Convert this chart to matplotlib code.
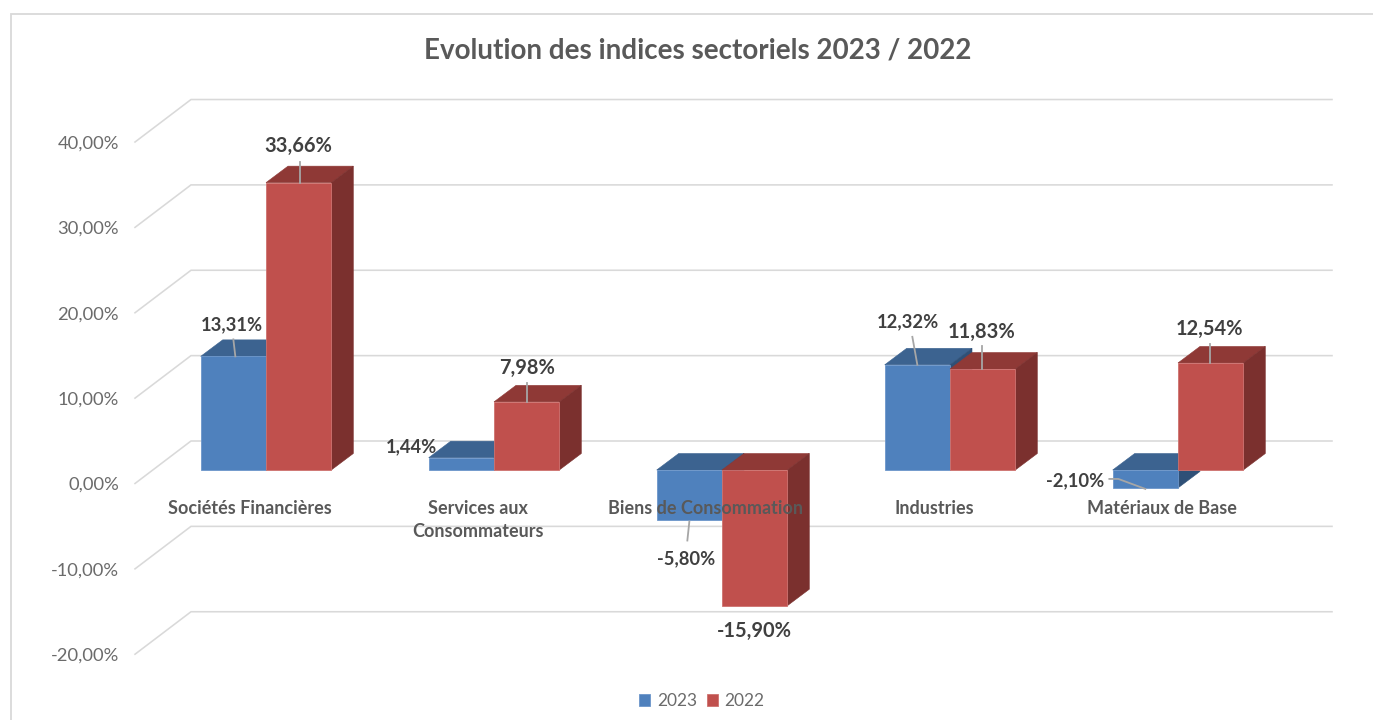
import matplotlib
matplotlib.use("Agg")
import matplotlib.pyplot as plt
from matplotlib.patches import Polygon

categories = ["Sociétés Financières", "Services aux\nConsommateurs",
              "Biens de Consommation", "Industries", "Matériaux de Base"]
series_names = ["2023", "2022"]
values_2023 = [13.31, 1.44, -5.80, 12.32, -2.10]
values_2022 = [33.66, 7.98, -15.90, 11.83, 12.54]
y_ticks = [-20, -10, 0, 10, 20, 30, 40]

W, H = 1373, 720
PX_X, PX_Y = 228.0, 8.537     # pixels per category, pixels per percentage point
X0, Y0 = 266.0, 483.5         # pixel of category 0 centre, pixel of 0 % on the front edge
L, R, T, B = 135, 1332, 60, 680

FONT = "Lato"
plt.rcParams["font.family"] = [FONT, "DejaVu Sans"]
fig = plt.figure(figsize=(W / 100, H / 100), dpi=100)
ax = fig.add_axes([L / W, 1 - B / H, (R - L) / W, (B - T) / H])
ax.set_xlim((L - X0) / PX_X, (R - X0) / PX_X)
ax.set_ylim((Y0 - B) / PX_Y, (Y0 - T) / PX_Y)
for s in ax.spines.values():
    s.set_visible(False)
ax.patch.set_alpha(0)


def dx(p):
    return p / PX_X


def dy(p):
    return p / PX_Y


GRID = "#D9D9D9"
BAR_Z = dy(13.5)      # bars stand this far above the front edge of the floor
WALL_X, WALL_Y = dx(56), dy(42.5)
BAR_W = dx(65.3)
DEPTH_X, DEPTH_Y = dx(22), dy(16.5)

# gridlines: diagonal on the side wall and then flat on the back wall
ax.set_yticks(y_ticks)
ax.set_yticklabels([f"{v:.2f}%".replace(".", ",") for v in y_ticks],
                   fontsize=13.2, color="#6B6B6B")
ax.set_xticks([])
ax.tick_params(axis="y", length=0, pad=11.5)
x_left = ax.get_xlim()[0]
x_right = ax.get_xlim()[1]
for v in y_ticks:
    ax.plot([x_left, x_left + WALL_X, x_right], [v, v + WALL_Y, v + WALL_Y],
            color=GRID, lw=1.15, zorder=1, solid_joinstyle="miter", clip_on=False)

STYLES = [("#4F81BD", "#3C6390", "#2F5077", "#6C96CA"),
          ("#C0504D", "#8F3936", "#7B302E", "#CE726F")]
zo = 2
handles = []
for s, vals in enumerate([values_2023, values_2022]):
    front, top, side, edge = STYLES[s]
    off = (s - 0.5) * BAR_W
    bars = ax.bar([i + off for i in range(len(vals))], vals, BAR_W, bottom=BAR_Z,
                  color=front, edgecolor=edge, linewidth=0.6, zorder=zo + 2,
                  label=series_names[s])
    handles.append(bars)
    for i, v in enumerate(vals):
        x1, x2 = i + off - BAR_W / 2, i + off + BAR_W / 2
        hi, lo = max(v, 0) + BAR_Z, min(v, 0) + BAR_Z
        ax.add_patch(Polygon([(x1, hi), (x2, hi), (x2 + DEPTH_X, hi + DEPTH_Y),
                              (x1 + DEPTH_X, hi + DEPTH_Y)], closed=True, facecolor=top,
                             edgecolor=top, linewidth=0.4, zorder=zo))
        ax.add_patch(Polygon([(x2, hi), (x2 + DEPTH_X, hi + DEPTH_Y),
                              (x2 + DEPTH_X, lo + DEPTH_Y), (x2, lo)], closed=True,
                             facecolor=side, edgecolor=side, linewidth=0.4, zorder=zo))
    zo += 3

# data labels: value, label offset and leader points, in pixels from the bar end
LAYOUT = {
    (0, 0): ((-1.5, -31.5), [(0, -17), (2, 0)]),
    (0, 1): ((0, -37), [(1, -21), (1, 0)]),
    (1, 0): ((-49.5, -10.5), []),
    (1, 1): ((0, -34), [(0, -19), (0, 0)]),
    (2, 0): ((-3.5, 39), [(0, 2), (-2, 21)]),
    (2, 1): ((0, 25), []),
    (3, 0): ((-9.5, -43.5), [(-5, -28), (0, 0)]),
    (3, 1): ((-1, -37), [(-1, -23), (-1, 0)]),
    (4, 0): ((-70, -7), [(-36, -9), (-27, -9), (0, 1)]),
    (4, 1): ((-1, -34), [(-1, -19), (-1, 0)]),
}
LABEL_SIZE = {(0, 1): 14.4, (1, 1): 14.4, (2, 1): 14.4, (3, 1): 14.4, (4, 1): 14.4}
for s, vals in enumerate([values_2023, values_2022]):
    off = (s - 0.5) * BAR_W
    for i, v in enumerate(vals):
        (lx, ly), leader = LAYOUT[(i, s)]
        ax0, ay0 = i + off, v + BAR_Z
        if leader:
            ax.plot([ax0 + dx(p[0]) for p in leader], [ay0 - dy(p[1]) for p in leader],
                    color="#A6A6A6", lw=1.3, zorder=20)
        ax.text(ax0 + dx(lx), ay0 - dy(ly), f"{v:.2f}%".replace(".", ","),
                ha="center", va="center", fontsize=LABEL_SIZE.get((i, s), 13.2),
                fontweight="bold", color="#404040", zorder=21)

# category labels
CAT_OFF = [-16, -16, -16, -16, -16]
for i, c in enumerate(categories):
    ax.text(i + dx(CAT_OFF[i]), dy(Y0 - 500), c, ha="center", va="top", fontsize=13,
            fontweight="bold", color="#595959", zorder=22, linespacing=1.42)

fig.text(698 / W, 1 - 50.5 / H, "Evolution des indices sectoriels 2023 / 2022",
         ha="center", va="center", fontsize=20, fontweight="bold", color="#595959")

ax.legend(handles=handles, loc="center", bbox_to_anchor=(702 / W, 1 - 701 / H),
          bbox_transform=fig.transFigure, ncol=2, frameon=False, fontsize=12.5,
          labelcolor="#6B6B6B", handlelength=0.62, handleheight=0.62, handletextpad=0.38,
          columnspacing=0.6, borderpad=0)

# chart frame
fig.add_artist(plt.Line2D([11.5 / W, 11.5 / W, 1], [0, 1 - 13.5 / H, 1 - 13.5 / H],
                          color=GRID, lw=1.3, solid_joinstyle="miter"))

fig.savefig("out.png", dpi=100)
